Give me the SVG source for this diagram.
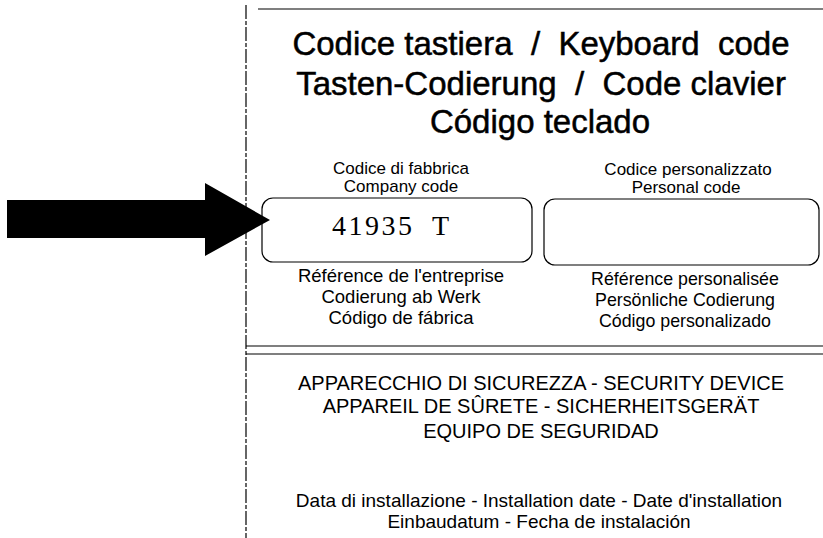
<svg xmlns="http://www.w3.org/2000/svg" width="823" height="538" viewBox="0 0 823 538">
<style>
.t{font-family:"Liberation Sans",Arial,sans-serif;fill:#000;text-anchor:middle;white-space:pre}
.title{font-size:33px;stroke:#000;stroke-width:0.5}
.s{font-size:17px}
.l{font-size:18.5px}
.r{font-size:17.8px}
.sec{font-size:20px}
.d{font-size:19px}
.code{font-family:"Liberation Serif","Times New Roman",serif;font-size:28px;fill:#000}
.ln{stroke:#000;fill:none;stroke-width:1.2}
</style>
<rect width="823" height="538" fill="#fff"/>
<g id="frame">
<line class="ln" x1="246" y1="5" x2="246" y2="538" stroke-dasharray="14 2 4 2"/>
<line class="ln" x1="258" y1="9" x2="823" y2="9"/>
<line class="ln" x1="246" y1="346" x2="823" y2="346"/>
<line class="ln" x1="246" y1="354" x2="823" y2="354"/>
</g>
<g id="arrow">
<polygon points="7,200 205,200 205,183 270,220 205,256 205,238 7,238" fill="#000"/>
</g>
<g id="title">
<text class="t title" x="541" y="55" xml:space="preserve">Codice tastiera  /  Keyboard  code</text>
<text class="t title" x="541" y="95" xml:space="preserve">Tasten-Codierung  /  Code clavier</text>
<text class="t title" x="540" y="133">Código teclado</text>
</g>
<g id="company-code">
<text class="t s" x="401" y="174">Codice di fabbrica</text>
<text class="t s" x="401" y="192">Company code</text>
<rect class="ln" x="262" y="198" width="270" height="64" rx="11"/>
<text class="code" x="332" y="235" letter-spacing="2.5">41935</text>
<text class="code" x="432" y="235">T</text>
<text class="t l" x="401" y="282">Référence de l'entreprise</text>
<text class="t l" x="401" y="303">Codierung ab Werk</text>
<text class="t l" x="401" y="324">Código de fábrica</text>
</g>
<g id="personal-code">
<text class="t s" x="688" y="175">Codice personalizzato</text>
<text class="t s" x="686" y="193">Personal code</text>
<rect class="ln" x="544" y="199" width="275" height="66" rx="11"/>
<text class="t r" x="685" y="285">Référence personalisée</text>
<text class="t r" x="685" y="306">Persönliche Codierung</text>
<text class="t r" x="685" y="327">Código personalizado</text>
</g>
<g id="security">
<text class="t sec" x="541" y="390">APPARECCHIO DI SICUREZZA - SECURITY DEVICE</text>
<text class="t sec" x="541" y="413">APPAREIL DE SÛRETE - SICHERHEITSGERÄT</text>
<text class="t sec" x="541" y="438">EQUIPO DE SEGURIDAD</text>
</g>
<g id="install-date">
<text class="t d" x="539" y="507">Data di installazione - Installation date - Date d'installation</text>
<text class="t d" x="539" y="528">Einbaudatum - Fecha de instalación</text>
</g>
</svg>
